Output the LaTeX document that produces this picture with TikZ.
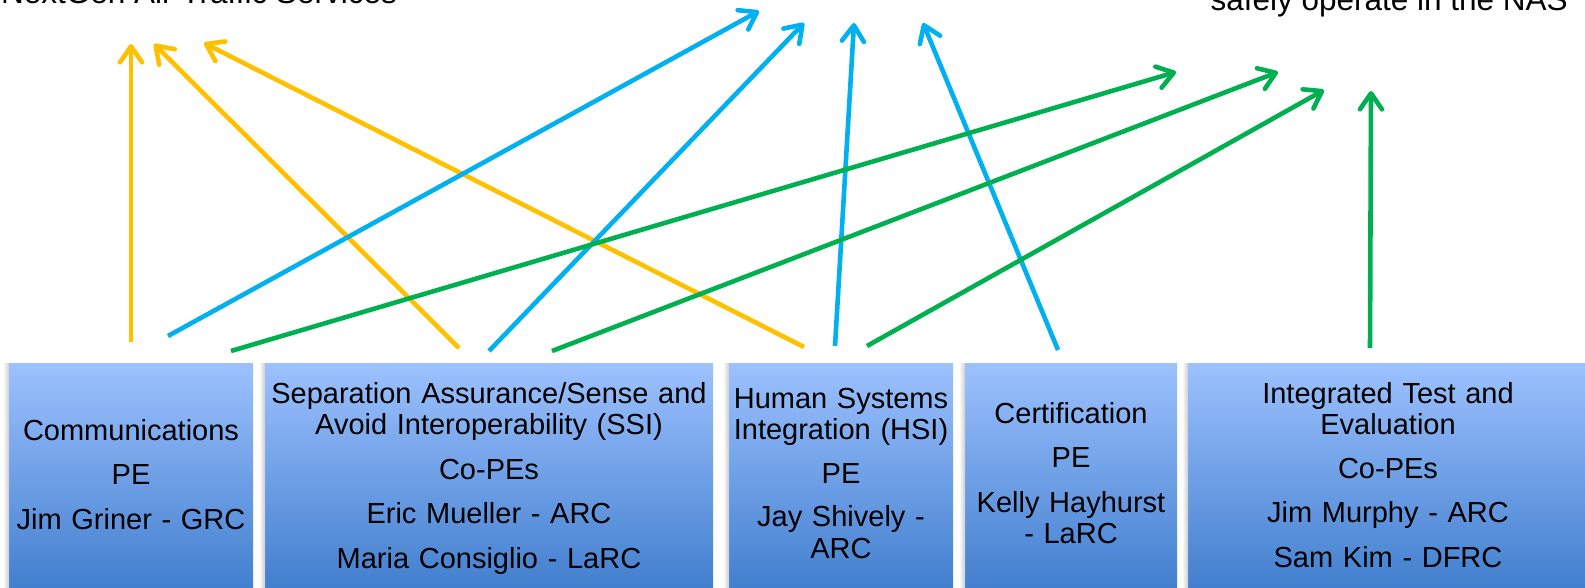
\documentclass[tikz,border=0pt]{standalone}
\usepackage{fontspec}
\setmainfont{Liberation Sans}
\usetikzlibrary{arrows.meta}
\definecolor{cOr}{RGB}{255,192,0}
\definecolor{cBl}{RGB}{0,176,240}
\definecolor{cGr}{RGB}{0,176,80}
\definecolor{bxTop}{RGB}{156,193,254}
\definecolor{bxBot}{RGB}{62,124,204}
\begin{document}
\begin{tikzpicture}[x=1pt,y=-1pt,
  box/.style={rectangle, inner sep=0pt, anchor=north west, top color=bxTop, bottom color=bxBot, draw=none, minimum height=236pt},
  lbl/.style={text width=#1, align=center, inner sep=0pt, anchor=base, font=\fontsize{29}{31.5}\selectfont},
  conn/.style={line width=4.6pt, -{Straight Barb[length=16pt,width=22pt,round]}},
  toptxt/.style={font=\fontsize{31.5}{34}\selectfont, inner sep=0pt, anchor=base east},
  shadowstrip/.style={left color=white, right color=black!20}
]
\useasboundingbox (0,0) rectangle (1585,587);
\begin{scope}
\clip (0,0) rectangle (1585,587);
% top texts (partly outside the frame, as in the reference)
\node[toptxt] (tl) at (397,3) {NextGen Air Traffic Services};
\node[toptxt] (tr) at (1568,10) {safely operate in the NAS};
% boxes
\node[box, minimum width=244pt] (b1) at (9,363) {};
\node[box, minimum width=448pt] (b2) at (265,363) {};
\node[box, minimum width=224pt] (b3) at (729,363) {};
\node[box, minimum width=212pt] (b4) at (965,363) {};
\node[box, minimum width=400pt] (b5) at (1188,363) {};
\foreach \b in {b1,b2,b3,b4,b5}{
  \shade[shadowstrip] ([xshift=-6pt]\b.north west) rectangle (\b.south west);
}
% labels
\node[lbl=244pt] (t1) at (131,440) {Communications\\[13pt]PE\\[13pt]Jim Griner - GRC};
\node[lbl=448pt] (t2) at (489,403) {Separation Assurance/Sense and\\Avoid Interoperability (SSI)\\[13pt]Co-PEs\\[13pt]Eric Mueller - ARC\\[13pt]Maria Consiglio - LaRC};
\node[lbl=230pt] (t3) at (841,408) {Human Systems\\Integration (HSI)\\[12pt]PE\\[12pt]Jay Shively -\\ARC};
\node[lbl=212pt] (t4) at (1071,423) {Certification\\[13pt]PE\\[13pt]Kelly Hayhurst\\- LaRC};
\node[lbl=397pt] (t5) at (1388,403) {Integrated Test and\\Evaluation\\[12pt]Co-PEs\\[13pt]Jim Murphy - ARC\\[13pt]Sam Kim - DFRC};
% connector end points
\coordinate (o1s) at (131,342); \coordinate (o1e) at (131,44);
\coordinate (o2s) at (459,348); \coordinate (o2e) at (154,44);
\coordinate (o3s) at (804,347); \coordinate (o3e) at (204,43);
\coordinate (u1s) at (168,336); \coordinate (u1e) at (759,11);
\coordinate (u2s) at (489,351); \coordinate (u2e) at (804,23);
\coordinate (u3s) at (835,346); \coordinate (u3e) at (854,23);
\coordinate (u4s) at (1058,350); \coordinate (u4e) at (923,23);
\coordinate (g1s) at (231,351); \coordinate (g1e) at (1176,72);
\coordinate (g2s) at (552,351); \coordinate (g2e) at (1278,72);
\coordinate (g3s) at (867,346); \coordinate (g3e) at (1324,90);
\coordinate (g4s) at (1370,348); \coordinate (g4e) at (1371,91);
% connectors
\draw[conn, cOr] (o1s) -- (o1e);
\draw[conn, cOr] (o2s) -- (o2e);
\draw[conn, cOr] (o3s) -- (o3e);
\draw[conn, cBl] (u1s) -- (u1e);
\draw[conn, cBl] (u2s) -- (u2e);
\draw[conn, cBl] (u3s) -- (u3e);
\draw[conn, cBl] (u4s) -- (u4e);
\draw[conn, cGr] (g1s) -- (g1e);
\draw[conn, cGr] (g2s) -- (g2e);
\draw[conn, cGr] (g3s) -- (g3e);
\draw[conn, cGr] (g4s) -- (g4e);
\end{scope}
\end{tikzpicture}
\end{document}
